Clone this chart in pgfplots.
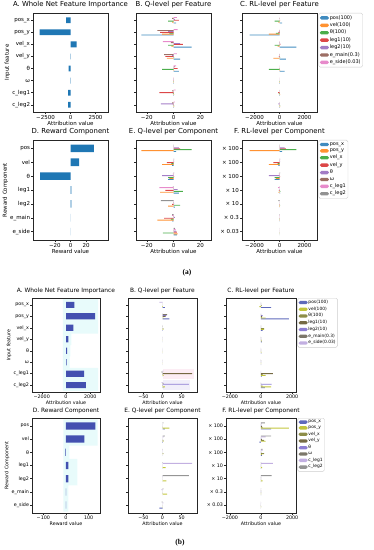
\documentclass[border=0pt]{standalone}
\usepackage{fontspec}
\setmainfont{DejaVu Sans}
\newfontfamily\capfont{Liberation Serif}
\usepackage{pgfplots}
\usepackage{pgfplotstable}
\pgfplotsset{compat=1.18}

\definecolor{ta1}{HTML}{1F77B4}
\definecolor{ta2}{HTML}{FF7F0E}
\definecolor{ta3}{HTML}{2CA02C}
\definecolor{ta4}{HTML}{D62728}
\definecolor{ta5}{HTML}{9467BD}
\definecolor{ta6}{HTML}{8C564B}
\definecolor{ta7}{HTML}{E377C2}
\definecolor{ta8}{HTML}{7F7F7F}
\definecolor{tb1}{HTML}{4350B0}
\definecolor{tb2}{HTML}{B8BC1C}
\definecolor{tb3}{HTML}{7A7A28}
\definecolor{tb4}{HTML}{5E5124}
\definecolor{tb5}{HTML}{7A68CC}
\definecolor{tb6}{HTML}{666050}
\definecolor{tb7}{HTML}{B8A2DC}
\definecolor{tb8}{HTML}{828282}
\definecolor{bgcyan}{HTML}{E8FBFB}
\definecolor{bgpink}{HTML}{FCEDF4}
\definecolor{bglav}{HTML}{F1EEFA}

% ---------- (a) ----------
\pgfplotstableread{
i pos vel th leg1 leg2 emain eside
0 2 -1 -4 4 1 -1 2.5
1 -24 -8.5 -3 -10 -4 -12 3
2 13.5 -1.5 -4 7 5 -2 -8
3 5 -5 0.5 -6 -1 -7 2.5
4 4 0.5 -8.5 3 0.5 1 2
5 0.3 0.2 0.2 0.2 0.2 0.3 0.3
6 0.3 0.5 -0.5 -10.5 0.3 -1 1.5
7 0.3 0.5 0.5 -0.5 -9.5 -1 1
}\QFa
\pgfplotstableread{
i px py vx vy th om cl1 cl2
0 2 -24 13.5 5 4 0.3 0.3 0.3
1 -1 -8.5 -1.5 -5 0.5 0.2 0.5 0.5
2 -4 -3 -4 0.5 -8.5 0.2 -0.5 0.5
3 4 -10 7 -6 3 0.2 -10.5 -0.5
4 1 -4 5 -1 0.5 0.2 0.3 -9.5
5 -1 -12 -2 -7 1 0.3 -1 -1
6 2.5 3 -8 2.5 2 0.3 1.5 1
}\QCa
\pgfplotstableread{
i pos vel th leg1 leg2 emain eside
0 200 -100 -400 40 10 -0.3 0.075
1 -2400 -850 -300 -100 -40 -3.6 0.09
2 1350 -150 -400 70 50 -0.6 -0.24
3 500 -500 50 -60 -10 -2.1 0.075
4 400 50 -850 30 5 0.3 0.06
5 30 20 20 2 2 0.09 0.009
6 30 50 -50 -105 3 -0.3 0.045
7 30 50 50 -5 -95 -0.3 0.03
}\RFa
\pgfplotstableread{
i px py vx vy th om cl1 cl2
0 200 -2400 1350 500 400 30 30 30
1 -100 -850 -150 -500 50 20 50 50
2 -400 -300 -400 50 -850 20 -50 50
3 40 -100 70 -60 30 2 -105 -5
4 10 -40 50 -10 5 2 3 -95
5 -0.3 -3.6 -0.6 -2.1 0.3 0.09 -0.3 -0.3
6 0.075 0.09 -0.24 0.075 0.06 0.009 0.045 0.03
}\RCa

% ---------- (b) ----------
\pgfplotstableread{
i pos vel th leg1 leg2 emain eside
0 6.5 -1 0.5 0.2 0.2 0.5 -8
1 18 3 0.5 8 10 12 1
2 1 2 2 0.3 0.3 1 0.5
3 0.5 0.5 0.3 0.1 0.1 0.5 0.3
4 0.2 0.2 0.1 0.1 0.1 0.2 0.2
5 0.1 0.1 0.1 0.1 0.1 0.1 0.1
6 0.5 3 1 77 1 -3 2
7 2.5 6.5 1 1 69 2 -2
}\QFb
\pgfplotstableread{
i px py vx vy th om cl1 cl2
0 6.5 18 1 0.5 0.2 0.1 0.5 2.5
1 -1 3 2 0.5 0.2 0.1 3 6.5
2 0.5 0.5 2 0.3 0.1 0.1 1 1
3 0.2 8 0.3 0.1 0.1 0.1 77 1
4 0.2 10 0.3 0.1 0.1 0.1 1 69
5 0.5 12 1 0.5 0.2 0.1 -3 2
6 -8 1 0.5 0.3 0.2 0.1 2 -2
}\QCb
\pgfplotstableread{
i pos vel th leg1 leg2 emain eside
0 650 -100 50 2 2 0.15 -0.24
1 1800 300 50 80 100 3.6 0.03
2 100 200 200 3 3 0.3 0.015
3 50 50 30 1 1 0.15 0.009
4 20 20 10 1 1 0.06 0.006
5 10 10 10 1 1 0.03 0.003
6 50 300 100 770 10 -0.9 0.06
7 250 650 100 10 690 0.6 -0.06
}\RFb
\pgfplotstableread{
i px py vx vy th om cl1 cl2
0 650 1800 100 50 20 10 50 250
1 -100 300 200 50 20 10 300 650
2 50 50 200 30 10 10 100 100
3 2 80 3 1 1 1 770 10
4 2 100 3 1 1 1 10 690
5 0.15 3.6 0.3 0.15 0.06 0.03 -0.9 0.6
6 -0.24 0.03 0.015 0.009 0.006 0.003 0.06 -0.06
}\RCb

\pgfplotsset{
  base/.style={
    scale only axis, anchor=north west,
    axis line style={black!85, line width=0.45pt},
    tick align=outside, tick pos=left, major tick length=1.8pt,
    tick style={black!85, line width=0.4pt},
    y dir=reverse,
    xlabel={Attribution value},
    legend cell align=left,
    every tick label/.append style={inner sep=1pt},
    xlabel style={inner sep=1pt},
    ylabel style={inner sep=1pt},
    title style={inner sep=1pt, yshift=-2.5pt},
  },
  fa/.style={base,
    title style={font=\fontsize{6.9}{8}\selectfont},
    tick label style={font=\fontsize{5.5}{6.5}\selectfont},
    label style={font=\fontsize{5.5}{6.5}\selectfont},
    legend style={font=\fontsize{5}{6}\selectfont, at={(1.02,1)}, anchor=north west,
      draw=black!20, rounded corners=1.5pt, inner sep=1.2pt,
      nodes={inner sep=0.9pt}, row sep=0.3pt},
  },
  fb/.style={base,
    title style={font=\fontsize{5.9}{7}\selectfont},
    tick label style={font=\fontsize{4.8}{5.6}\selectfont},
    label style={font=\fontsize{4.8}{5.6}\selectfont},
    legend style={font=\fontsize{4.4}{5.2}\selectfont, at={(1.02,1)}, anchor=north west,
      draw=black!20, rounded corners=1.5pt, inner sep=1.1pt,
      nodes={inner sep=0.8pt}, row sep=0.3pt},
  },
  feat/.style={ymin=-0.6, ymax=7.6, ytick={0,1,2,3,4,5,6,7}},
  comp/.style={ymin=-0.6, ymax=6.6, ytick={0,1,2,3,4,5,6}},
  nofeat/.style={yticklabels={,,,,,,,}},
  gb/.style 2 args={xbar, fill=#1, draw=none, fill opacity=0.85, bar width=0.075, bar shift=#2,
    legend image code/.code={\fill[#1, fill opacity=0.85] (0pt,-1.7pt) rectangle (9pt,1.7pt);}},
  gc/.style 2 args={xbar, fill=#1, draw=none, fill opacity=0.85, bar width=0.066, bar shift=#2,
    legend image code/.code={\fill[#1, fill opacity=0.85] (0pt,-1.7pt) rectangle (9pt,1.7pt);}},
  sb/.style 2 args={xbar, fill=#1, draw=none, bar width=#2, bar shift=0},
}

\newcommand\sevenbars[2]{%
  \addplot[gb={#21}{0.225}] table[x=pos,y=i]{#1};
  \addplot[gb={#22}{0.15}] table[x=vel,y=i]{#1};
  \addplot[gb={#23}{0.075}] table[x=th,y=i]{#1};
  \addplot[gb={#24}{0}] table[x=leg1,y=i]{#1};
  \addplot[gb={#25}{-0.075}] table[x=leg2,y=i]{#1};
  \addplot[gb={#26}{-0.15}] table[x=emain,y=i]{#1};
  \addplot[gb={#27}{-0.225}] table[x=eside,y=i]{#1};
}
\newcommand\eightbars[2]{%
  \addplot[gc={#21}{0.231}] table[x=px,y=i]{#1};
  \addplot[gc={#22}{0.165}] table[x=py,y=i]{#1};
  \addplot[gc={#23}{0.099}] table[x=vx,y=i]{#1};
  \addplot[gc={#24}{0.033}] table[x=vy,y=i]{#1};
  \addplot[gc={#25}{-0.033}] table[x=th,y=i]{#1};
  \addplot[gc={#26}{-0.099}] table[x=om,y=i]{#1};
  \addplot[gc={#27}{-0.165}] table[x=cl1,y=i]{#1};
  \addplot[gc={#28}{-0.231}] table[x=cl2,y=i]{#1};
}

\begin{document}
\begin{tikzpicture}
\useasboundingbox (0,0) rectangle (374pt,550pt);

% ================= (a) row 1 =================
\begin{axis}[fa, feat, at={(33pt,537pt)}, width=75pt, height=99pt,
  title={A. Whole Net Feature Importance},
  xmin=-3750, xmax=3750, xtick={-2500,0,2500}, xticklabels={−2500,0,2500},
  yticklabels={pos\_x,pos\_y,vel\_x,vel\_y,θ,ω,c\_leg1,c\_leg2},
  ylabel={Input feature}]
\addplot[sb={ta1}{0.48}] coordinates {(-430,0) (-3100,1) (600,2) (25,3) (-200,4) (30,5) (-250,6) (-250,7)};
\end{axis}

\begin{axis}[fa, feat, nofeat, at={(136pt,537pt)}, width=75pt, height=99pt,
  title={B. Q-level per Feature},
  xmin=-28, xmax=28, xtick={-20,0,20}, xticklabels={−20,0,20}]
\sevenbars{\QFa}{ta}
\end{axis}

\begin{axis}[fa, feat, nofeat, at={(242pt,537pt)}, width=75pt, height=99pt,
  title={C. RL-level per Feature},
  xmin=-3000, xmax=3000, xtick={-2000,0,2000}, xticklabels={−2000,0,2000},
  legend entries={pos(100),vel(100),θ(100),leg1(10),leg2(10),e\_main(0.3),e\_side(0.03)}]
\sevenbars{\RFa}{ta}
\end{axis}

% ================= (a) row 2 =================
\begin{axis}[fa, comp, at={(33pt,410pt)}, width=75pt, height=100pt,
  title={D. Reward Component},
  xmin=-48, xmax=48, xtick={-20,0,20}, xticklabels={−20,0,20},
  yticklabels={pos,vel,θ,leg1,leg2,e\_main,e\_side},
  xlabel={Reward value}, ylabel={Reward Component}]
\addplot[sb={ta1}{0.55}] coordinates {(30,0) (11,1) (-39,2) (1,3) (1,4) (0.3,5) (0.2,6)};
\end{axis}

\begin{axis}[fa, comp, nofeat, at={(136pt,410pt)}, width=75pt, height=100pt,
  title={E. Q-level per Component},
  xmin=-28, xmax=28, xtick={-20,0,20}, xticklabels={−20,0,20}]
\eightbars{\QCa}{ta}
\end{axis}

\begin{axis}[fa, comp, at={(242pt,410pt)}, width=75pt, height=100pt,
  title={F. RL-level per Component},
  xmin=-3000, xmax=3000, xtick={-2000,0,2000}, xticklabels={−2000,0,2000},
  yticklabels={× 100,× 100,× 100,× 10,× 10,× 0.3,× 0.03},
  legend entries={pos\_x,pos\_y,vel\_x,vel\_y,θ,ω,c\_leg1,c\_leg2}]
\eightbars{\RCa}{ta}
\end{axis}

\node[font=\capfont\bfseries\fontsize{7.5}{8}\selectfont] at (187pt,277pt) {(a)};

% ================= (b) row 1 =================
\begin{axis}[fb, feat, at={(32pt,252pt)}, width=68pt, height=94pt,
  title={A. Whole Net Feature Importance},
  xmin=-2800, xmax=2800, xtick={-2000,0,2000}, xticklabels={−2000,0,2000},
  yticklabels={pos\_x,pos\_y,vel\_x,vel\_y,θ,ω,c\_leg1,c\_leg2},
  ylabel={Input feature}]
\addplot[sb={bgcyan}{1}] coordinates {(2650,0) (2650,1) (2650,2) (450,3) (350,4) (300,5) (2650,6) (2650,7)};
\addplot[sb={bgcyan}{1}] coordinates {(-250,0) (-250,1) (-250,2) (-250,3) (-250,4) (-250,5) (-250,6) (-250,7)};
\addplot[sb={tb1}{0.54}] coordinates {(680,0) (2400,1) (600,2) (190,3) (100,4) (50,5) (1500,6) (1630,7)};
\end{axis}

\begin{axis}[fb, feat, nofeat, at={(128pt,252pt)}, width=69pt, height=94pt,
  title={B. Q-level per Feature},
  xmin=-90, xmax=90, xtick={-50,0,50}, xticklabels={−50,0,50}]
\addplot[sb={bgpink}{0.9}] coordinates {(82,6)};
\addplot[sb={bglav}{0.9}] coordinates {(72,7)};
\sevenbars{\QFb}{tb}
\end{axis}

\begin{axis}[fb, feat, nofeat, at={(226pt,252pt)}, width=70pt, height=94pt,
  title={C. RL-level per Feature},
  xmin=-2250, xmax=2250, xtick={-2000,0,2000}, xticklabels={−2000,0,2000},
  legend entries={pos(100),vel(100),θ(100),leg1(10),leg2(10),e\_main(0.3),e\_side(0.03)}]
\sevenbars{\RFb}{tb}
\end{axis}

% ================= (b) row 2 =================
\begin{axis}[fb, comp, at={(32pt,132pt)}, width=68pt, height=95pt,
  title={D. Reward Component},
  xmin=-150, xmax=150, xtick={-100,0,100}, xticklabels={−100,0,100},
  yticklabels={pos,vel,θ,leg1,leg2,e\_main,e\_side},
  xlabel={Reward value}, ylabel={Reward Component}]
\addplot[sb={bgcyan}{1}] coordinates {(140,0) (140,1) (15,2) (50,3) (50,4) (10,5) (10,6)};
\addplot[sb={bgcyan}{1}] coordinates {(-12,0) (-12,1) (-12,2) (-12,3) (-12,4) (-12,5) (-12,6)};
\addplot[sb={tb1}{0.55}] coordinates {(130,0) (81,1) (-3,2) (10,3) (10,4) (0.5,5) (0.3,6)};
\end{axis}

\begin{axis}[fb, comp, nofeat, at={(128pt,132pt)}, width=69pt, height=95pt,
  title={E. Q-level per Component},
  xmin=-90, xmax=90, xtick={-50,0,50}, xticklabels={−50,0,50}]
\eightbars{\QCb}{tb}
\end{axis}

\begin{axis}[fb, comp, at={(226pt,132pt)}, width=70pt, height=95pt,
  title={F. RL-level per Component},
  xmin=-2250, xmax=2250, xtick={-2000,0,2000}, xticklabels={−2000,0,2000},
  yticklabels={× 100,× 100,× 100,× 10,× 10,× 0.3,× 0.03},
  legend entries={pos\_x,pos\_y,vel\_x,vel\_y,θ,ω,c\_leg1,c\_leg2}]
\eightbars{\RCb}{tb}
\end{axis}

\node[font=\capfont\bfseries\fontsize{7.5}{8}\selectfont] at (180pt,7pt) {(b)};
\end{tikzpicture}
\end{document}
